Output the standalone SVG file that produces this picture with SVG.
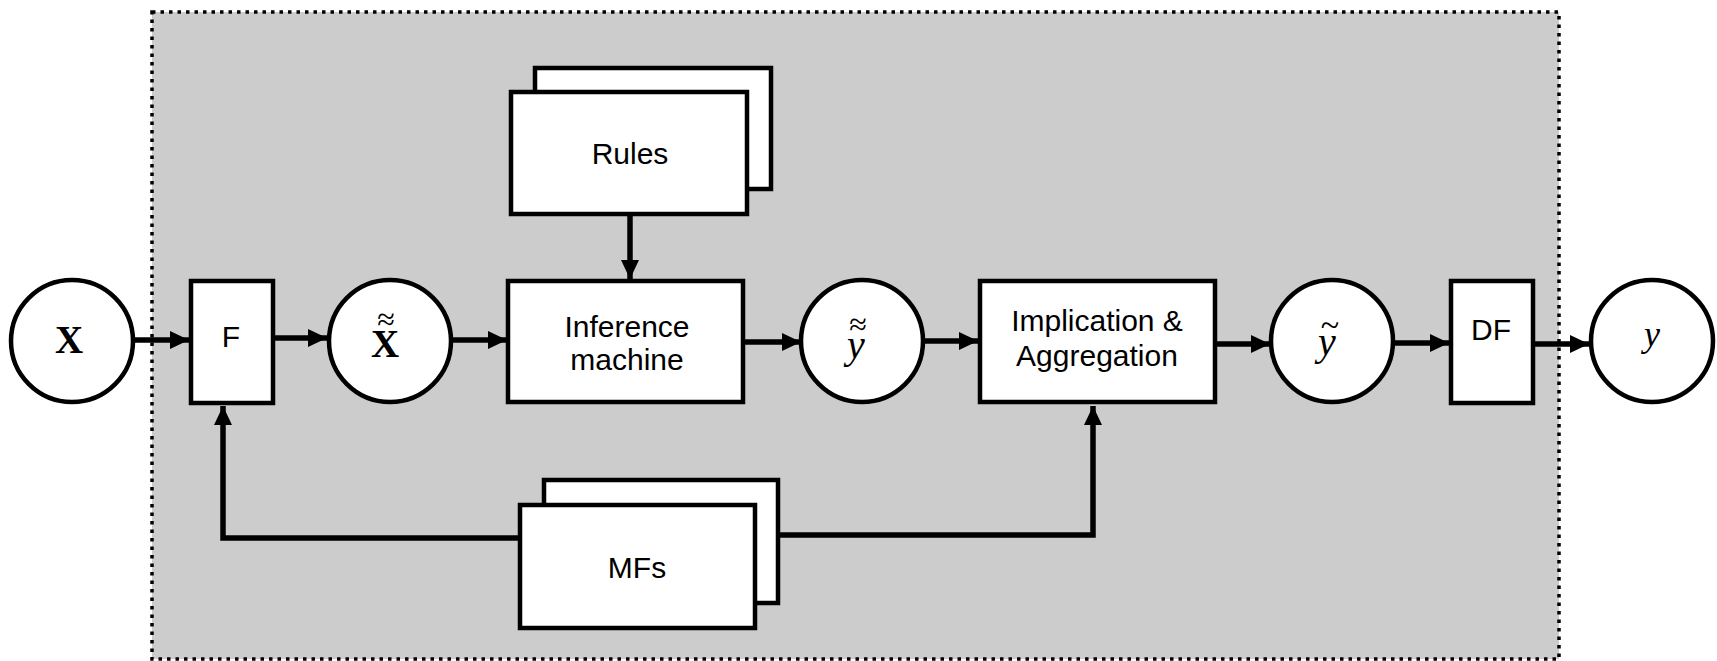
<svg xmlns="http://www.w3.org/2000/svg" width="1717" height="661" viewBox="0 0 1717 661">
<style>
.box{fill:#fff;stroke:#000;stroke-width:4.5}
.circ{fill:#fff;stroke:#000;stroke-width:4.5}
.lbl{font-family:"Liberation Sans",Arial,sans-serif;font-size:30px;fill:#000;text-anchor:middle}
.math{font-family:"Liberation Serif","Times New Roman",serif;fill:#000;text-anchor:middle}
.conn{fill:none;stroke:#000;stroke-width:5.5}
</style>
<defs>
<marker id="arr" markerUnits="userSpaceOnUse" markerWidth="20" markerHeight="18" refX="19" refY="9" orient="auto">
<path d="M0,0 L19,9 L0,18 z" fill="#000"/>
</marker>
</defs>
<rect x="0" y="0" width="1717" height="661" fill="#fff"/>
<rect id="boundary" x="152" y="12" width="1407" height="647" fill="#cccccc" stroke="#000" stroke-width="3.5" stroke-dasharray="3.5,5"/>

<g id="connectors">
<line class="conn" x1="134" y1="340" x2="189" y2="340" marker-end="url(#arr)"/>
<line class="conn" x1="274" y1="338" x2="327" y2="338" marker-end="url(#arr)"/>
<line class="conn" x1="453" y1="340" x2="507" y2="340" marker-end="url(#arr)"/>
<line class="conn" x1="744" y1="342" x2="801" y2="342" marker-end="url(#arr)"/>
<line class="conn" x1="924" y1="341" x2="978" y2="341" marker-end="url(#arr)"/>
<line class="conn" x1="1216" y1="344" x2="1270" y2="344" marker-end="url(#arr)"/>
<line class="conn" x1="1395" y1="343" x2="1449" y2="343" marker-end="url(#arr)"/>
<line class="conn" x1="1534" y1="344" x2="1589" y2="344" marker-end="url(#arr)"/>
<line class="conn" x1="630" y1="215" x2="630" y2="279" marker-end="url(#arr)"/>
<polyline class="conn" points="520,538 223,538 223,406" marker-end="url(#arr)"/>
<polyline class="conn" points="778,535 1093,535 1093,406" marker-end="url(#arr)"/>
</g>

<g id="node-X">
<circle class="circ" cx="72" cy="341" r="61"/>
<text class="math" x="69" y="353" font-size="39" font-weight="bold">X</text>
</g>

<g id="node-F">
<rect class="box" x="191" y="281" width="82" height="122"/>
<text class="lbl" x="231" y="347">F</text>
</g>

<g id="node-Xtt">
<circle class="circ" cx="390" cy="341" r="61"/>
<text class="math" font-size="39" font-weight="bold"><tspan x="385" y="357">X</tspan><tspan x="386" y="330" font-size="32" font-weight="normal">≈</tspan></text>
</g>

<g id="node-rules">
<rect class="box" x="535" y="68" width="236" height="121"/>
<rect class="box" x="511" y="92" width="236" height="122"/>
<text class="lbl" x="630" y="164">Rules</text>
</g>

<g id="node-inference">
<rect class="box" x="508" y="281" width="235" height="121"/>
<text class="lbl" x="627" y="337">Inference</text>
<text class="lbl" x="627" y="370">machine</text>
</g>

<g id="node-ytt">
<circle class="circ" cx="862" cy="341" r="61"/>
<text class="math" font-size="40" font-style="italic"><tspan x="856" y="358">y</tspan><tspan x="858" y="335" font-size="32" font-style="normal">≈</tspan></text>
</g>

<g id="node-impl">
<rect class="box" x="980" y="281" width="235" height="121"/>
<text class="lbl" x="1097" y="331">Implication &amp;</text>
<text class="lbl" x="1097" y="366">Aggregation</text>
</g>

<g id="node-yt">
<circle class="circ" cx="1332" cy="341" r="61"/>
<text class="math" font-size="40" font-style="italic"><tspan x="1327" y="355">y</tspan><tspan x="1330" y="336" font-size="34" font-style="normal">~</tspan></text>
</g>

<g id="node-DF">
<rect class="box" x="1451" y="281" width="82" height="122"/>
<text class="lbl" x="1491" y="340">DF</text>
</g>

<g id="node-y">
<circle class="circ" cx="1652" cy="341" r="61"/>
<text class="math" x="1652" y="346" font-size="36" font-style="italic">y</text>
</g>

<g id="node-MFs">
<rect class="box" x="544" y="480" width="234" height="123"/>
<rect class="box" x="520" y="505" width="235" height="123"/>
<text class="lbl" x="637" y="578">MFs</text>
</g>
</svg>
